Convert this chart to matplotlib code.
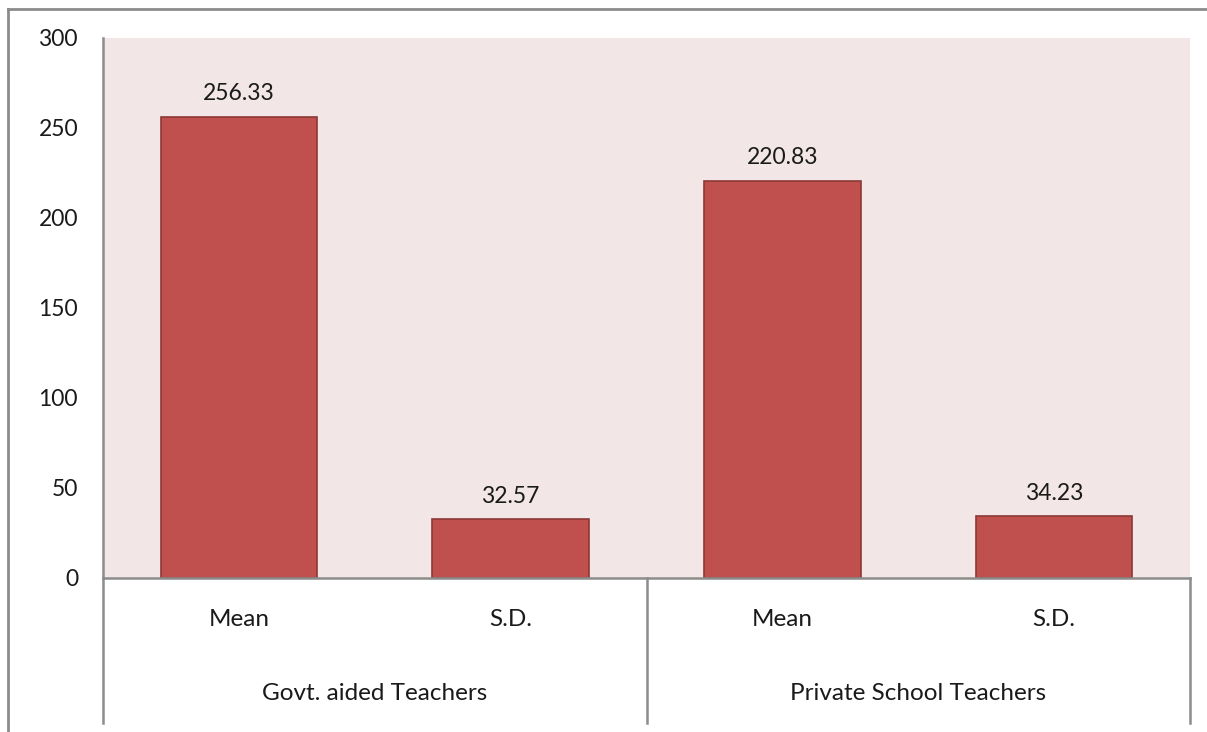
import matplotlib.pyplot as plt
from matplotlib.lines import Line2D
import matplotlib.transforms as mtransforms

# data
stats = ['Mean', 'S.D.', 'Mean', 'S.D.']
groups = ['Govt. aided Teachers', 'Private School Teachers']
values = [256.33, 32.57, 220.83, 34.23]
yticks = [0, 50, 100, 150, 200, 250, 300]

plt.rcParams['font.family'] = ['Lato', 'DejaVu Sans']
fs = 16.5
fs_cat = 17.5

W, H = 1207, 732
fig = plt.figure(figsize=(W / 100, H / 100), dpi=100)
ax = fig.add_axes([103 / W, (H - 578) / H, (1190 - 103) / W, (578 - 38) / H])
ax.set_facecolor('#F2E7E6')

x = list(range(len(values)))
ax.bar(x, values, width=0.575, color='#C0504D', edgecolor='#8C3836', linewidth=1.2, zorder=2)
for xi, v in zip(x, values):
    ax.annotate(f'{v:.2f}', (xi, v), xytext=(0, 9), textcoords='offset points',
                ha='center', va='bottom', fontsize=fs, color='#1a1a1a')

ax.set_xlim(-0.5, len(values) - 0.5)
ax.set_ylim(0, 300)
ax.set_yticks(yticks)
ax.tick_params(axis='y', length=0, pad=18, labelsize=fs, labelcolor='#1a1a1a')
ax.set_xticks([])
for s in ['top', 'right']:
    ax.spines[s].set_visible(False)
for s in ['left', 'bottom']:
    ax.spines[s].set_color('#8c8c8c')
    ax.spines[s].set_linewidth(1.8)

# category axis below the plot
low = -(723 - 578) / (578 - 38)
trans = mtransforms.blended_transform_factory(ax.transData, ax.transAxes)
ax.add_line(Line2D([0, 0], [0, low], transform=ax.transAxes, color='#8c8c8c', lw=1.8, clip_on=False))
for sep in [1.5, 3.5]:
    ax.add_line(Line2D([sep, sep], [0, low], transform=trans, color='#8c8c8c', lw=1.8, clip_on=False))
for xi, lab in zip(x, stats):
    ax.text(xi, -(620 - 578) / 540, lab, transform=trans, ha='center', va='center',
            fontsize=fs_cat, color='#1a1a1a')
for gi, lab in enumerate(groups):
    ax.text(gi * 2 + 0.5, -(693 - 578) / 540, lab, transform=trans, ha='center', va='center',
            fontsize=fs_cat, color='#1a1a1a')

# outer chart frame (partly cropped)
fig.add_artist(Line2D([8 / W, 8 / W], [0, 1 - 9 / H], transform=fig.transFigure, color='#8c8c8c', lw=2))
fig.add_artist(Line2D([8 / W, 1], [1 - 9 / H, 1 - 9 / H], transform=fig.transFigure, color='#8c8c8c', lw=2))

fig.savefig('out.png', dpi=100, facecolor='white')
